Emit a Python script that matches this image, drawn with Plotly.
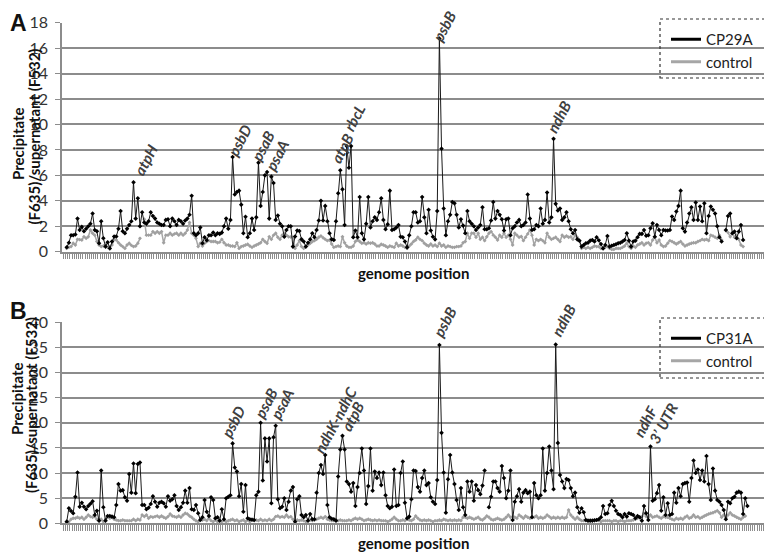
import plotly.graph_objects as go

# Panel A: CP29A precipitate/supernatant ratio per probe, and control
cp29a = [
    0.35, 0.7, 1.3, 1.3, 1.35, 2.6, 1.7, 1.95, 1.6, 1.8,
    2.0, 2.2, 3.0, 1.7, 1.6, 0.66, 2.4, 1.05, 0.4, 0.74,
    0.26, 0.8, 1.2, 1.2, 1.8, 3.2, 1.6, 1.45, 1.8, 2.1,
    2.4, 5.45, 2.6, 4.2, 2.0, 3.1, 2.3, 2.2, 2.4, 3.1,
    2.8, 2.6, 2.3, 2.2, 2.1, 2.1, 2.5, 2.55, 2.0, 2.6,
    2.4, 2.1, 2.5, 2.4, 2.2, 2.45, 2.6, 2.9, 4.4, 1.45,
    1.3, 1.45, 1.9, 0.66, 1.13, 0.9, 1.3, 1.3, 1.5, 1.3,
    1.45, 1.4, 1.5, 2.0, 2.6, 1.8, 2.5, 7.45, 4.5, 4.7,
    4.8, 3.7, 1.45, 2.75, 1.13, 1.45, 2.6, 1.7, 2.7, 7.0,
    3.6, 4.7, 6.0, 6.26, 2.6, 5.9, 5.4, 2.5, 2.85, 2.2,
    2.0, 1.18, 1.7, 2.0, 2.0, 0.4, 1.2, 1.66, 1.63, 0.97,
    0.8, 0.4, 0.7, 0.97, 1.45, 1.13, 1.7, 2.45, 4.0, 2.45,
    3.6, 2.4, 1.45, 0.97, 0.92, 2.4, 4.6, 6.4, 4.9, 2.1,
    8.3, 6.6, 8.3, 1.13, 1.66, 1.13, 4.3, 1.45, 0.97, 2.2,
    4.3, 1.9, 2.4, 2.7, 2.5, 3.1, 4.2, 2.5, 1.76, 2.15,
    4.8, 1.7, 1.76, 1.9, 2.1, 1.18, 1.13, 0.8, 0.34, 1.3,
    2.0, 3.1, 3.1, 2.3, 2.4, 4.3, 2.7, 1.45, 3.3, 1.66,
    1.18, 0.97, 3.2, 16.76, 8.1, 3.4, 1.3, 2.4, 2.9, 3.9,
    3.8, 2.9, 1.9, 2.55, 2.05, 1.45, 3.2, 2.4, 2.2, 2.0,
    1.7, 1.9, 2.1, 3.5, 1.76, 1.76, 1.84, 2.45, 3.9, 2.6,
    3.2, 2.9, 2.55, 1.66, 2.55, 2.6, 1.3, 1.84, 2.0, 2.3,
    2.5, 2.0, 2.1, 2.3, 4.5, 2.6, 1.7, 1.76, 2.1, 2.0,
    3.4, 2.2, 2.5, 4.65, 2.3, 2.7, 8.87, 3.76, 3.24, 3.4,
    2.5, 2.7, 3.1, 2.4, 1.76, 1.45, 1.7, 0.97, 0.87, 0.4,
    0.53, 0.66, 0.7, 0.87, 0.92, 0.8, 1.13, 0.9, 0.6, 0.26,
    0.53, 1.24, 0.4, 0.47, 0.53, 0.58, 0.66, 0.7, 0.8, 0.92,
    1.45, 0.87, 0.4, 0.8, 0.87, 1.13, 1.4, 1.4, 1.7, 1.26,
    1.3, 1.84, 2.24, 1.18, 2.1, 1.7, 1.3, 1.7, 1.66, 1.66,
    1.7, 2.76, 2.5, 3.16, 3.6, 4.8, 1.84, 1.58, 2.3, 3.0,
    3.5, 2.5, 3.87, 2.5, 3.55, 2.4, 3.8, 1.45, 2.8, 3.55,
    3.3, 3.0, 2.0, 1.13, 0.8, None, 1.7, 2.8, 3.0, 1.45,
    1.58, 1.05, 1.58, 2.1, 0.92,
]

control_a = [
    0.26, 0.35, 0.4, 0.66, 0.53, 0.97, 0.95, 0.92, 1.18, 1.05,
    1.18, 1.7, 1.45, 1.3, 0.8, 0.53, 0.4, 0.45, 0.53, 0.34,
    0.4, 0.53, 0.97, 0.92, 0.7, 0.53, 0.4, 0.26, 0.53, 0.66,
    0.5, 0.4, 0.45, 0.66, 1.05, None, 2.55, 1.3, 1.3, 1.3,
    1.58, 1.45, 1.58, 1.45, 1.58, 0.7, 1.3, 1.3, 1.45, 1.3,
    1.4, 1.45, 1.3, 1.45, 1.3, 1.45, 1.7, 2.3, 1.45, 1.3,
    1.05, 0.4, 0.66, 0.45, 0.66, 0.8, 0.87, 0.8, 0.8, 0.8,
    0.7, 0.75, 0.97, 0.7, 0.53, 0.53, 0.45, 0.45, 0.4, 0.7,
    0.26, 0.4, 0.45, 0.53, 0.58, 0.45, 0.34, 0.45, 0.53, 0.6,
    0.7, 0.97, 0.8, 0.66, 1.18, 0.97, 1.3, 1.45, 1.13, 0.97,
    1.3, 1.45, 1.3, 1.18, 1.15, 1.13, 0.26, 0.53, 0.87, 0.4,
    0.26, 0.4, 0.53, 0.66, 0.8, 0.87, 0.97, 1.13, 1.24, 1.1,
    0.97, 0.87, 0.92, 0.6, 0.34, 0.4, 0.45, 0.4, 1.18, 0.7,
    0.45, 0.34, 0.34, 0.45, 0.8, 0.92, 0.8, 0.66, 0.7, 0.6,
    0.7, 0.66, 0.7, 0.6, 0.45, 0.45, 0.58, 0.53, 0.45, 0.34,
    0.45, 0.4, 0.34, 0.66, 0.45, 0.53, 0.45, 0.34, 0.26, 0.45,
    0.6, 0.8, 0.92, 1.13, 0.97, 0.87, 0.66, 0.53, 0.45, 0.6,
    0.45, 0.53, 0.4, 0.66, 0.45, 0.53, 0.34, 0.45, 0.4, 0.34,
    0.34, 0.4, 0.4, 0.45, 0.7, 0.8, 1.45, 1.05, 1.45, 1.45,
    1.13, 1.45, 0.97, 1.13, 0.87, 1.18, 1.45, 1.58, 1.3, 1.13,
    0.92, 1.3, 1.13, 1.45, 1.13, 1.3, 0.97, 0.53, 1.45, 1.3,
    1.13, 1.2, 0.87, 1.13, 1.4, 1.7, 1.3, 0.53, 0.97, 0.87,
    0.97, 0.87, 0.7, 1.45, 1.13, 0.97, 1.05, 1.13, 0.97, 0.8,
    1.3, 1.13, 1.24, 1.13, 1.18, 0.97, 1.3, 1.13, 0.87, 0.26,
    0.34, 0.26, 0.34, 0.26, 0.34, 0.45, 0.4, 0.4, 0.26, 0.3,
    0.34, 0.4, 0.26, 0.18, 0.18, 0.26, 0.26, 0.26, 0.34, 0.45,
    0.66, 0.4, 0.26, 0.45, 0.34, 0.53, 0.6, 0.7, 0.53, 0.66,
    0.7, 0.53, 0.92, 1.13, 0.7, 0.92, 0.53, 0.4, 0.45, 0.66,
    0.87, 0.8, 0.7, 0.6, 0.7, 0.8, 0.6, 0.45, 0.53, 0.6,
    0.66, 0.7, 0.7, 0.8, 0.87, 0.97, 0.92, 0.97, 0.87, 1.3,
    1.24, 1.13, 1.05, 1.3, 0.92, None, 1.66, 1.5, 1.18, 1.45,
    1.13, 1.3, 0.97, 0.53, 0.4,
]

# Panel B: CP31A and control
cp31a = [
    0.33, 3.0, 2.45, 2.0, 5.3, 10.1, 3.3, 4.1, 3.3, 2.8,
    3.45, 3.9, 4.4, 1.66, 2.5, 0.53, 10.5, 3.2, 0.53, 1.46,
    1.46, 1.33, 1.2, 3.65, 7.8, 6.5, 6.6, 5.2, 4.5, 9.8,
    6.1, 11.9, 6.0, 11.8, 12.1, 3.65, 3.65, 2.8, 3.1, 3.85,
    5.4, 4.3, 3.3, 4.1, 4.3, 4.0, 3.3, 5.4, 4.5, 4.8,
    5.6, 3.45, 2.65, 3.2, 4.1, 6.5, 4.1, 7.0, 2.8, 2.65,
    3.65, 2.0, 0.66, 1.2, 4.65, 2.3, 1.46, 5.2, 4.65, 1.0,
    1.2, 0.53, 2.8, 0.8, 5.0, 5.3, 5.6, 15.9, 11.1, 10.3,
    5.4, 7.8, 2.3, 7.6, 1.0, 0.8, 0.7, 0.66, 5.6, 6.3,
    20.0, 8.5, 16.9, 12.3, 16.9, 4.0, 17.1, 19.4, 4.8, 3.0,
    3.3, 5.0, 2.65, 4.3, 6.5, 7.2, 0.33, 4.8, 5.4, 1.66,
    1.2, 1.66, 0.53, 1.86, 0.8, 0.8, 6.1, 10.0, 11.6, 9.8,
    13.6, 3.65, 1.2, 0.9, 0.8, 0.53, 9.3, 14.7, 17.4, 14.7,
    8.3, 7.8, 6.3, 8.0, 3.45, 7.2, 10.0, 14.9, 10.5, 3.85,
    7.4, 14.9, 6.5, 10.3, 9.0, 10.1, 7.6, 10.1, 5.6, 3.45,
    3.0, 3.3, 10.7, 3.45, 3.65, 10.0, 12.3, 4.1, 1.0, 1.33,
    4.8, 10.5, 10.4, 7.2, 6.3, 9.0, 10.5, 7.6, 8.0, 5.2,
    4.3, 3.85, 8.6, 35.5, 18.0, 10.1, 2.1, 8.75, 13.6, 10.1,
    7.8, 4.65, 2.65, 7.0, 3.2, 1.66, 8.3, 6.3, 8.3, 4.5,
    7.6, 6.6, 5.8, 7.5, 10.5, None, 3.2, 5.3, 8.3, 8.3,
    7.0, 6.3, 11.4, 9.0, 5.0, 6.5, 10.5, 0.66, 4.3, 5.4,
    6.8, 4.3, 6.1, 6.6, 6.0, 6.3, 1.2, 8.0, 5.6, 5.0,
    5.6, 14.9, 6.5, 10.0, 15.3, 10.5, 6.8, 35.6, 16.0, 9.6,
    8.3, 7.0, 8.8, 8.6, 7.0, 5.4, 6.1, 3.2, 2.1, 3.0,
    2.2, 0.66, 0.53, 0.53, 0.53, 0.6, 0.66, 0.8, 1.2, 3.45,
    1.86, 2.0, 3.65, 4.5, 3.45, 2.5, 1.86, 1.66, 1.2, 1.86,
    1.33, 2.0, 1.86, 1.66, 1.0, 1.46, 1.2, 0.53, 3.45, 2.0,
    0.66, 15.3, 4.5, 4.8, 6.0, 7.6, 2.5, 5.2, 1.66, 4.0,
    1.66, 1.86, 6.1, 4.1, 7.0, 5.4, 7.8, 8.0, 8.1, 4.3,
    9.0, 12.5, 10.0, 10.7, 8.6, 10.5, 8.3, 13.4, 7.8, 4.65,
    10.9, 6.5, 4.65, 4.3, 3.65, 2.65, 0.8, 4.3, 4.0, 5.0,
    5.3, 6.1, 6.3, 6.1, 1.86, 5.0, 3.45,
]

control_b = [
    0.13, 0.33, 0.8, 1.0, 1.0, 1.2, 1.0, 1.2, 0.8, 1.2,
    1.66, 1.33, 1.2, 1.33, 0.8, 0.66, 0.8, 0.33, 0.8, 1.2,
    1.0, 1.2, 0.8, 0.66, 0.53, 0.53, 0.66, 0.53, 0.53, 0.53,
    0.53, 0.8, 0.53, 0.8, 0.66, 1.66, 1.33, 1.66, 1.0, 1.33,
    1.2, 1.33, 1.46, 1.2, 1.46, 1.2, 1.0, 1.33, 1.86, 1.46,
    1.33, 1.2, 1.46, 1.2, 1.66, 2.0, 1.86, 1.46, 1.2, 0.8,
    0.5, 0.33, 0.8, 0.66, 0.8, 0.53, 1.0, 0.53, 0.33, 0.66,
    0.33, 0.53, 0.33, 0.53, 0.33, 0.5, 0.66, 0.8, 0.53, 0.66,
    0.33, 0.53, 0.66, 0.33, 0.66, 0.33, 0.8, 0.53, 0.66, 0.53,
    0.8, 0.53, 0.66, 0.53, 0.8, 0.53, 0.8, 1.33, 1.46, 1.2,
    1.33, 1.2, 1.66, 1.2, 1.33, 0.8, 0.33, 0.66, 0.53, 0.66,
    0.53, 0.33, 0.53, 0.66, 0.53, 0.66, 0.8, 1.0, 1.2, 1.0,
    1.33, 0.8, 0.66, 0.53, 0.53, 0.66, 0.53, 0.66, 0.53, 0.53,
    0.53, 0.66, 0.53, 0.8, 1.0, 0.8, 1.0, 0.8, 0.53, 0.66,
    0.8, 0.66, 0.53, 0.66, 0.53, 0.66, 0.53, 0.53, 0.53, 0.33,
    0.53, 0.8, 1.2, 0.8, 0.53, 0.53, 0.66, 0.53, 0.8, 0.66,
    0.53, 0.8, 1.46, 1.0, 0.66, 0.53, 0.66, 0.53, 0.66, 0.53,
    0.33, 0.53, 0.53, 0.66, 0.53, 0.8, 0.66, 0.53, 0.66, 0.53,
    0.66, 0.53, 0.66, 0.53, 1.2, 1.2, 1.0, 1.2, 1.0, 0.8,
    1.0, 1.2, 0.8, 0.66, 1.0, 1.46, 1.2, 0.8, 0.66, 0.8,
    1.0, 0.8, 0.66, 0.8, 1.2, 1.66, 1.2, 1.33, 1.2, 1.0,
    1.66, 1.33, 1.0, 1.46, 1.2, 1.0, 1.33, 1.2, 1.46, 1.0,
    1.2, 1.0, 1.2, 1.66, 1.33, 1.0, 1.2, 1.0, 1.2, 1.0,
    1.2, 1.0, 1.2, 2.65, 1.66, 1.2, 0.8, 1.2, 0.8, 0.53,
    0.53, 0.53, 0.53, 0.53, 0.53, 0.53, 0.66, 0.53, 0.33, 0.53,
    0.53, 0.53, 0.53, 0.33, 0.53, 0.53, 0.33, 0.53, 0.53, 0.33,
    0.53, 0.53, 0.53, 0.66, 0.8, 1.0, 1.2, 1.33, 2.0, 1.33,
    1.2, 1.66, 1.2, 1.33, 1.46, 1.2, 1.0, 1.33, 1.2, 1.2,
    1.0, 0.8, 0.66, 1.0, 0.8, 1.0, 0.8, 1.2, 1.46, 1.0,
    1.2, 1.66, 1.2, 1.33, 1.0, 1.2, 1.46, 1.66, 1.86, 2.0,
    2.1, 2.3, 2.5, 2.1, 1.2, 1.66, 1.2, 1.66, 2.1, 1.66,
    1.46, 1.2, 1.0, 0.8, 1.2, 1.46,
]

# gene labels: (name, probe index of the peak they mark)
genes_a = [("atpH", 31), ("psbD", 77), ("psaB", 89), ("psaA", 93),
           ("atpB", 127), ("rbcL", 132), ("psbB", 173), ("ndhB", 226)]
genes_b = [("psbD", 77), ("psaB", 90), ("psaA", 97), ("ndhK-ndhC", 120),
           ("atpB", 128), ("psbB", 173), ("ndhB", 227), ("ndhF", 271),
           ("3\u2019 UTR", 271)]

# pixel offsets of each label from its peak
shifts_a = [(12, 22), (7, 17), (4, 17), (10, 17), (2, 22), (3, 28), (5, 12), (5, 22)]
shifts_b = [(1, 22), (5, 20), (6, 22), (10, 35), (10, 20), (5, 23), (8, 24), (-5, 25), (13, 23)]

# the page body adds an 8px margin, so the figure is 8px smaller and all
# positions below are given in page pixels
OFF = 8
W, H = 772 - OFF, 552 - OFF
L, R = 62 - OFF, 8
PW = W - L - R
GRID = "#8c8c8c"
FONT = "Lato"


def paper_y(py):
    return 1 - (py - OFF) / H


def paper_x(px):
    return (px - OFF - L) / PW


fig = go.Figure()

panels = [
    ("x", "y", cp29a, control_a, "CP29A", "legend"),
    ("x2", "y2", cp31a, control_b, "CP31A", "legend2"),
]
for xa, ya, main, ctrl, name, leg in panels:
    fig.add_trace(go.Scatter(
        x=list(range(len(ctrl))), y=ctrl, xaxis=xa, yaxis=ya, mode="lines+markers",
        line=dict(color="#a6a6a6", width=1.5), marker=dict(size=3, color="#a0a0a0", symbol="diamond"),
        showlegend=False, connectgaps=False,
    ))
    fig.add_trace(go.Scatter(
        x=list(range(len(main))), y=main, xaxis=xa, yaxis=ya, mode="lines+markers",
        line=dict(color="#1a1a1a", width=1), marker=dict(size=3.5, color="#000000", symbol="diamond"),
        showlegend=False, connectgaps=False,
    ))
    # legend entries
    fig.add_trace(go.Scatter(x=[None], y=[None], xaxis=xa, yaxis=ya, mode="lines",
                             line=dict(color="#000000", width=3), name=name, legend=leg))
    fig.add_trace(go.Scatter(x=[None], y=[None], xaxis=xa, yaxis=ya, mode="lines",
                             line=dict(color="#a6a6a6", width=3), name="control", legend=leg))

x_common = dict(
    range=[-2.2, 323.7], showgrid=False, zeroline=False, showline=True,
    linecolor=GRID, linewidth=1.5, ticks="outside", ticklen=6, tickwidth=1,
    tickcolor=GRID, tickmode="linear", tick0=-0.5, dtick=1, showticklabels=False,
)
y_common = dict(
    showgrid=True, gridcolor=GRID, gridwidth=1.5, zeroline=False, showline=True,
    linecolor=GRID, linewidth=1.5, ticks="outside", ticklen=5, tickcolor=GRID,
    tickmode="linear", tick0=0, tickfont=dict(family=FONT, size=16, color="#333333"),
    ticklabelstandoff=4,
)

fig.update_layout(
    width=W, height=H,
    margin=dict(l=L, r=R, t=0, b=0, autoexpand=False),
    paper_bgcolor="white", plot_bgcolor="white",
    xaxis=dict(domain=[0, 1], anchor="y", **x_common),
    yaxis=dict(domain=[paper_y(251.7), paper_y(22.7)], anchor="x", range=[0, 18], dtick=2, **y_common),
    xaxis2=dict(domain=[0, 1], anchor="y2", **x_common),
    yaxis2=dict(domain=[paper_y(523.3), paper_y(322.3)], anchor="x2", range=[0, 40], dtick=5, **y_common),
)

legend_style = dict(
    xanchor="left", yanchor="top", bgcolor="rgba(0,0,0,0)", borderwidth=0,
    font=dict(family=FONT, size=15, color="#222222"), itemwidth=30, tracegroupgap=0,
)
fig.update_layout(
    legend=dict(x=paper_x(666), y=paper_y(23), **legend_style),
    legend2=dict(x=paper_x(666), y=paper_y(322), **legend_style),
)

# dotted legend boxes
for top, bottom in [(19, 78), (318, 378)]:
    fig.add_shape(type="rect", xref="paper", yref="paper",
                  x0=paper_x(660), x1=paper_x(770), y0=paper_y(bottom), y1=paper_y(top),
                  line=dict(color="#333333", width=1.2, dash="dot"))

annotations = []
for genes, shifts, xa, ya, data in [(genes_a, shifts_a, "x", "y", cp29a),
                                    (genes_b, shifts_b, "x2", "y2", cp31a)]:
    for (gene, idx), (dx, dy) in zip(genes, shifts):
        annotations.append(dict(
            text=f"<b><i>{gene}</i></b>", x=idx, y=data[idx], xref=xa, yref=ya,
            xshift=dx, yshift=dy, showarrow=False, textangle=-62,
            xanchor="center", yanchor="middle",
            font=dict(family=FONT, size=15, color="#404040"),
        ))


def paper_label(text, xpx, ypx, size=15, angle=0, family=FONT):
    return dict(text=text, x=paper_x(xpx), y=paper_y(ypx), xref="paper", yref="paper",
                showarrow=False, textangle=angle, xanchor="center", yanchor="middle",
                font=dict(family=family, size=size, color="#111111"))


# axis titles and panel letters
for ypx in (273, 543):
    annotations.append(paper_label("<b>genome position</b>", 413, ypx))
for x1, x2, y1, y2 in [(18, 33, 144, 136.5), (17, 31, 399, 405)]:
    annotations.append(paper_label("<b>Precipitate</b>", x1, y1, angle=-90))
    annotations.append(paper_label("<b>(F635)/supernatant (F532)</b>", x2, y2, angle=-90))
for letter, ypx in [("A", 23), ("B", 311)]:
    annotations.append(paper_label(f"<b>{letter}</b>", 18, ypx, size=23, family="Liberation Sans"))

fig.update_layout(annotations=annotations)

fig.write_html("out.html")
